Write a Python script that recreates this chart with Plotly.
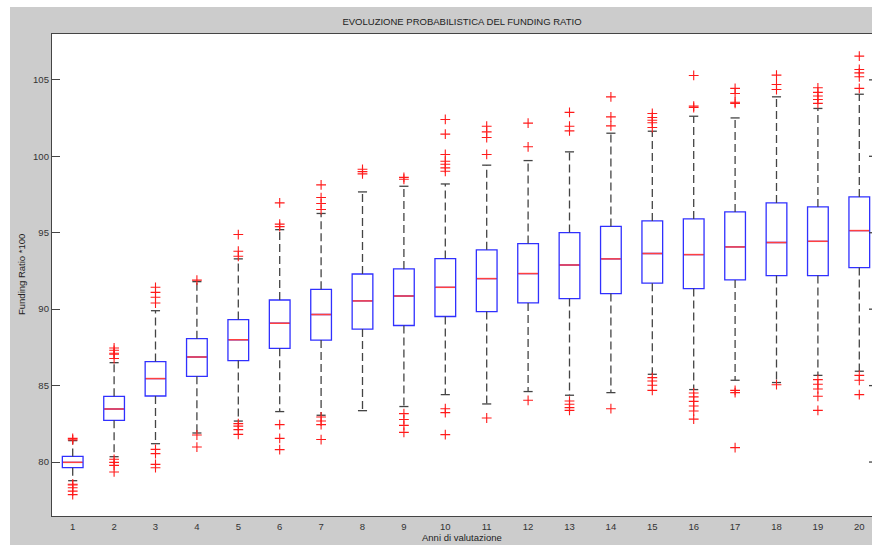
import plotly.graph_objects as go

years = list(range(1, 21))
q1 = [79.63, 82.73, 84.32, 85.61, 86.64, 87.44, 87.98, 88.70, 88.93, 89.52,
      89.84, 90.41, 90.69, 91.02, 91.70, 91.35, 91.91, 92.20, 92.20, 92.72]
medians = [79.98, 83.47, 85.46, 86.87, 88.00, 89.08, 89.65, 90.54, 90.86, 91.43,
           92.00, 92.33, 92.89, 93.29, 93.64, 93.57, 94.07, 94.36, 94.44, 95.14]
q3 = [80.37, 84.30, 86.57, 88.07, 89.32, 90.60, 91.30, 92.30, 92.63, 93.31,
      93.88, 94.29, 95.01, 95.41, 95.77, 95.90, 96.36, 96.95, 96.69, 97.34]
whisk_lo = [78.78, 80.35, 81.20, 81.90, 82.68, 83.30, 83.06, 83.36, 83.63, 84.41,
            83.80, 84.61, 84.37, 84.54, 85.74, 84.74, 85.35, 85.20, 85.67, 85.94]
whisk_hi = [81.40, 86.50, 89.90, 91.80, 93.29, 95.20, 96.26, 97.67, 98.04, 98.19,
            99.42, 99.72, 100.29, 101.51, 101.64, 102.62, 102.51, 103.89, 103.13, 104.06]
outliers = [
    [81.45, 81.55, 78.55, 78.50, 78.32, 78.10, 77.87],
    [86.77, 87.05, 87.12, 87.31, 87.46, 80.18, 79.98, 79.78, 79.35],
    [90.40, 90.78, 91.10, 91.43, 80.83, 80.55, 79.85, 79.63],
    [91.90, 81.77, 80.98],
    [93.46, 93.79, 94.88, 82.51, 82.35, 82.12, 81.81],
    [95.40, 95.56, 96.95, 82.45, 81.55, 80.81],
    [96.52, 96.91, 97.30, 98.13, 82.95, 82.68, 82.45, 81.47],
    [98.85, 99.00, 99.15],
    [98.50, 98.62, 83.17, 82.78, 82.40, 81.94],
    [99.02, 99.24, 99.48, 99.68, 100.12, 101.45, 102.41, 83.49, 83.23, 81.79],
    [100.12, 101.23, 101.60, 101.97, 82.88],
    [100.62, 102.17, 84.04],
    [101.66, 101.97, 102.87, 83.99, 83.78, 83.56, 83.38],
    [101.99, 102.58, 103.89, 83.49],
    [101.88, 102.19, 102.36, 102.54, 102.80, 85.52, 85.30, 85.02, 84.69],
    [103.19, 103.28, 105.29, 84.52, 84.26, 83.97, 83.67, 83.34, 82.81],
    [103.46, 103.54, 104.11, 104.44, 84.69, 84.54, 80.94],
    [104.37, 104.70, 105.31, 85.06],
    [103.46, 103.72, 103.94, 104.18, 104.48, 85.39, 85.09, 84.78, 84.30, 83.38],
    [104.44, 105.20, 105.46, 105.68, 106.55, 85.67, 85.35, 84.41],
]
ytick_vals = [80, 85, 90, 95, 100, 105]

title_text = "EVOLUZIONE PROBABILISTICA DEL FUNDING RATIO"
xlabel = "Anni di valutazione"
ylabel = "Funding Ratio *100"

BOX_W = 0.5
CAP_W = 0.11
FONT = "Liberation Sans, Arial, sans-serif"

fig = go.Figure()

# dashed whiskers
wx, wy = [], []
for x, a, b, lo, hi in zip(years, q1, q3, whisk_lo, whisk_hi):
    wx += [x, x, None, x, x, None]
    wy += [b, hi, None, a, lo, None]
fig.add_trace(go.Scatter(x=wx, y=wy, mode="lines", hoverinfo="skip",
                         line=dict(color="#444444", width=1.3, dash="8px,4px"),
                         showlegend=False))
# caps
cx, cy = [], []
for x, lo, hi in zip(years, whisk_lo, whisk_hi):
    cx += [x - CAP_W, x + CAP_W, None, x - CAP_W, x + CAP_W, None]
    cy += [hi, hi, None, lo, lo, None]
fig.add_trace(go.Scatter(x=cx, y=cy, mode="lines", hoverinfo="skip",
                         line=dict(color="#444444", width=1.3), showlegend=False))

# boxes
fig.add_trace(go.Box(x=years, q1=q1, median=medians, q3=q3,
                     lowerfence=q1, upperfence=q3, width=BOX_W,
                     whiskerwidth=0, boxpoints=False,
                     line=dict(color="#3030ff", width=1.3),
                     fillcolor="rgba(255,255,255,0)", showlegend=False))

# medians
mx, my = [], []
for x, m in zip(years, medians):
    mx += [x - BOX_W / 2 + 0.015, x + BOX_W / 2 - 0.015, None]
    my += [m, m, None]
fig.add_trace(go.Scatter(x=mx, y=my, mode="lines", hoverinfo="skip",
                         line=dict(color="#ff4040", width=1.5), showlegend=False))

# outliers
ox, oy = [], []
for x, vals in zip(years, outliers):
    for v in vals:
        ox.append(x)
        oy.append(v)
fig.add_trace(go.Scatter(x=ox, y=oy, mode="markers",
                         marker=dict(symbol="cross-thin", size=7,
                                     line=dict(color="#ff1a1a", width=1.1)),
                         showlegend=False))

# right-side inward ticks (axis line itself is beyond the visible area)
shapes = []
for v in ytick_vals:
    shapes.append(dict(type="line", xref="paper", yref="y", x0=1 - 3 / 820, x1=1,
                       y0=v, y1=v, line=dict(color="#444444", width=1.3)))
# white strips at left and top of figure
shapes.append(dict(type="rect", xref="paper", yref="paper", x0=-0.07, x1=(10 - 52) / 820,
                   y0=-0.1, y1=1.2, fillcolor="white", line=dict(width=0)))
shapes.append(dict(type="rect", xref="paper", yref="paper", x0=-0.07, x1=1.01,
                   y0=(516 - 7) / 482, y1=1.2, fillcolor="white", line=dict(width=0)))

annotations = [
    dict(text=ylabel, xref="paper", yref="paper", x=(21 - 52) / 820, y=0.5,
         textangle=-90, showarrow=False, xanchor="center", yanchor="middle",
         font=dict(family=FONT, size=9.5, color="#222222")),
    dict(text=xlabel, xref="paper", yref="paper", x=0.5, y=(516 - 537) / 482,
         showarrow=False, xanchor="center", yanchor="middle",
         font=dict(family=FONT, size=9.5, color="#222222")),
]

fig.update_layout(
    width=872, height=545,
    margin=dict(l=52, r=0, t=34, b=29),
    paper_bgcolor="#cccccc", plot_bgcolor="white",
    title=dict(text=title_text, x=0.5, xref="paper", y=1 - 22 / 545, yref="container",
               xanchor="center", yanchor="middle",
               font=dict(family=FONT, size=9.5, color="#222222")),
    shapes=shapes, annotations=annotations,
    font=dict(family=FONT, size=9.5, color="#333333"),
    showlegend=False,
)
fig.update_xaxes(range=[0.5, 0.5 + 820 / 41.4], tickvals=years, ticktext=[str(y) for y in years],
                 ticks="", showgrid=False, zeroline=False, showline=True, mirror=True,
                 linecolor="#444444", linewidth=1.3, ticklabelstandoff=1,
                 tickfont=dict(family=FONT, size=9.5, color="#333333"))
fig.update_yaxes(range=[76.47, 108.0], tickvals=ytick_vals, ticks="inside", ticklen=8,
                 tickcolor="#444444", tickwidth=1.3, showgrid=False, zeroline=False,
                 showline=True, mirror=False, linecolor="#444444", linewidth=1.3,
                 tickfont=dict(family=FONT, size=9.5, color="#333333"))

fig.write_html("out.html", config={"displayModeBar": False},
               post_script="document.body.style.margin='0';document.body.style.overflow='hidden';")
